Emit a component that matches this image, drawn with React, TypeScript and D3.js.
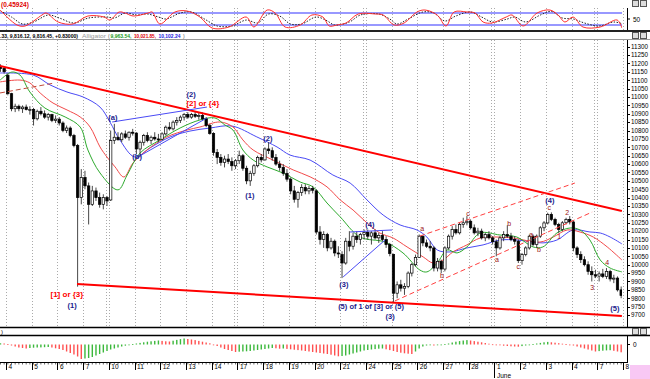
import React from 'react';
import * as d3 from 'd3';

const W = 650;
const H = 379;

// Day labels along the time axis (each trading day = 7 hourly bars)
const dayLabels = ['4','5','6','7','10','11','12','13','14','17','18','19','20','21','24','25','26','27','28','1','2','3','4','7','8'];
const mondays = [4, 9, 14, 19, 23];
const monthLabel = { day: 19, text: 'June' };

const firstBar = -2;
// hourly OHLC, DJIA May 3 (last 2 bars) .. June 7 2010
const ohlc: [number, number, number, number][] = [
  [11180,11195,11150,11170],[11170,11180,11140,11151],
  // May 4
  [11130,11140,11010,11020],[11020,11025,10915,10930],[10930,10960,10910,10945],[10945,10955,10915,10930],[10930,10950,10905,10940],[10940,10955,10920,10925],[10925,10945,10895,10926],
  // May 5
  [10926,10935,10830,10870],[10870,10925,10860,10915],[10915,10940,10890,10900],[10900,10920,10870,10880],[10880,10905,10860,10895],[10895,10900,10850,10860],[10860,10890,10845,10868],
  // May 6
  [10868,10880,10830,10845],[10845,10855,10790,10800],[10800,10830,10785,10815],[10815,10825,10760,10770],[10770,10780,10700,10710],[10710,10720,9869,10400],[10400,10570,10360,10520],
  // May 7
  [10520,10560,10450,10470],[10470,10490,10240,10360],[10360,10470,10350,10440],[10440,10460,10380,10400],[10400,10430,10340,10360],[10360,10420,10330,10400],[10400,10410,10350,10380],
  // May 10
  [10386,10800,10380,10740],[10740,10840,10720,10760],[10760,10790,10740,10745],[10745,10790,10730,10780],[10780,10800,10750,10760],[10760,10795,10740,10790],[10790,10810,10770,10785],
  // May 11
  [10785,10790,10660,10690],[10690,10740,10640,10730],[10730,10780,10710,10770],[10770,10790,10730,10740],[10740,10770,10720,10760],[10760,10790,10740,10750],[10750,10780,10730,10748],
  // May 12
  [10748,10790,10740,10780],[10780,10830,10770,10820],[10820,10850,10800,10810],[10810,10860,10800,10850],[10850,10880,10830,10860],[10860,10890,10845,10880],[10880,10905,10860,10896],
  // May 13
  [10896,10910,10870,10880],[10880,10905,10870,10895],[10895,10912,10875,10885],[10885,10905,10865,10890],[10890,10908,10860,10870],[10870,10880,10820,10830],[10830,10840,10775,10782],
  // May 14
  [10782,10790,10650,10670],[10670,10690,10600,10640],[10640,10660,10590,10610],[10610,10650,10580,10630],[10630,10660,10600,10615],[10615,10640,10560,10590],[10590,10630,10570,10620],
  // May 17
  [10620,10680,10600,10650],[10650,10660,10560,10575],[10575,10590,10480,10500],[10500,10560,10470,10545],[10545,10600,10530,10590],[10590,10650,10580,10640],[10640,10660,10610,10625],
  // May 18
  [10625,10700,10620,10690],[10690,10730,10660,10680],[10680,10700,10620,10640],[10640,10660,10590,10600],[10600,10620,10560,10580],[10580,10600,10530,10545],[10545,10570,10495,10510],
  // May 19
  [10510,10520,10420,10440],[10440,10470,10370,10390],[10390,10440,10340,10430],[10430,10480,10410,10460],[10460,10480,10420,10440],[10440,10470,10420,10455],[10455,10470,10425,10444],
  // May 20
  [10440,10450,10180,10195],[10195,10230,10120,10150],[10150,10200,10100,10180],[10180,10190,10080,10100],[10100,10160,10090,10140],[10140,10150,10050,10070],[10070,10110,10040,10068],
  // May 21
  [10060,10080,9920,10010],[10010,10160,10000,10140],[10140,10200,10080,10110],[10110,10190,10090,10170],[10170,10200,10130,10150],[10150,10190,10120,10180],[10180,10210,10150,10193],
  // May 24
  [10193,10210,10150,10170],[10170,10200,10120,10190],[10190,10210,10150,10160],[10160,10190,10130,10175],[10175,10200,10140,10150],[10150,10170,10100,10120],[10120,10130,10050,10066],
  // May 25
  [10060,10066,9774,9830],[9830,9900,9800,9880],[9880,9910,9840,9860],[9860,9890,9820,9870],[9870,9960,9860,9950],[9950,10010,9930,10000],[10000,10060,9990,10043],
  // May 26
  [10043,10180,10040,10170],[10170,10175,10110,10130],[10130,10150,10100,10110],[10110,10140,10080,10100],[10100,10110,9960,9980],[9980,10040,9960,10020],[10020,10030,9950,9974],
  // May 27
  [9974,10110,9960,10100],[10100,10180,10090,10170],[10170,10230,10150,10210],[10210,10240,10180,10190],[10190,10250,10180,10240],[10240,10280,10220,10250],[10250,10290,10235,10259],
  // May 28
  [10259,10270,10210,10220],[10220,10240,10180,10190],[10190,10220,10170,10200],[10200,10215,10150,10160],[10160,10190,10140,10180],[10180,10200,10150,10160],[10160,10170,10120,10137],
  // June 1
  [10137,10150,10050,10100],[10100,10170,10090,10160],[10160,10200,10140,10180],[10180,10235,10160,10170],[10170,10190,10140,10150],[10150,10170,10120,10140],[10140,10150,10010,10024],
  // June 2
  [10024,10070,10000,10060],[10060,10110,10050,10100],[10100,10180,10090,10170],[10170,10180,10110,10120],[10120,10180,10100,10170],[10170,10230,10160,10220],[10220,10260,10200,10249],
  // June 3
  [10249,10310,10240,10300],[10300,10312,10260,10270],[10270,10280,10230,10240],[10240,10250,10190,10210],[10210,10260,10200,10250],[10250,10280,10240,10270],[10270,10290,10240,10255],
  // June 4
  [10255,10260,10080,10100],[10100,10110,10040,10060],[10060,10080,10010,10030],[10030,10050,9990,10000],[10000,10020,9940,9960],[9960,9990,9900,9940],[9940,9970,9920,9932],
  // June 7
  [9932,9960,9900,9945],[9945,9975,9920,9930],[9930,9980,9915,9960],[9960,9970,9900,9915],[9915,9940,9890,9920],[9920,9930,9840,9850],[9850,9870,9800,9816],
];

// Alligator lines: [bar, price]
const jaw: [number, number][] = [
  [-2.1,11143],[6.9,11131],[11.5,11072],[16.1,11030],[20.5,11000],[25.1,10940],[27.8,10851],[30.5,10744],[34.6,10642],[38.7,10696],[44.2,10762],[49.6,10797],[55.1,10815],[61,10827],[67.8,10762],[73.3,10702],[76.8,10654],[82.3,10624],[88.5,10535],[93.2,10487],[97.8,10386],[102.2,10296],[106.8,10237],[111.4,10207],[114.1,10165],[116.9,10088],[120.4,10076],[125,10100],[129.4,10118],[134,10147],[138.6,10147],[143,10135],[145.7,10130],[149.5,10147],[153.9,10207],[158.5,10195],[161.3,10189],[164,10165],[167.2,10124],
];
const teeth: [number, number][] = [
  [-2.1,11090],[3.3,11101],[6,11084],[8.8,11024],[12.3,10964],[16.1,10923],[19.7,10881],[22.4,10821],[25.1,10702],[27,10642],[29.2,10583],[31.6,10523],[34.1,10607],[37.9,10684],[43.3,10762],[48.8,10803],[52.3,10821],[57.8,10851],[61.3,10821],[64,10744],[66.8,10684],[72.2,10624],[77.7,10565],[82.3,10524],[86.9,10464],[90.5,10386],[94,10326],[97.8,10249],[101.3,10189],[104.9,10159],[108.7,10106],[113.1,10046],[115.8,10010],[118.5,10028],[121.2,10076],[125,10118],[128.6,10159],[133.2,10165],[137.6,10159],[144.9,10135],[148.5,10165],[152.3,10207],[155.8,10195],[159.4,10165],[163.2,10106],[167.2,10028],
];
const lips: [number, number][] = [
  [-2.1,11101],[1.1,11149],[3.3,11131],[6,11030],[10.1,10934],[15.6,10881],[19.7,10821],[21.8,10684],[25.1,10547],[30,10446],[32.5,10535],[36,10666],[41.4,10744],[46.9,10815],[52.3,10863],[56.4,10875],[59.1,10833],[61.3,10803],[64,10684],[66.8,10624],[70.6,10583],[74.9,10547],[79.6,10493],[83.1,10464],[86.9,10368],[90.5,10285],[95.9,10165],[102.7,10135],[107.6,10070],[112.2,9968],[114.1,9957],[116.9,10010],[119.6,10088],[122.3,10070],[125,10106],[128.6,10189],[134,10177],[138.6,10165],[143,10106],[145.7,10106],[149.5,10189],[153.1,10219],[155.8,10207],[158.5,10147],[161.3,10028],[164,9980],[167.2,9957],
];

// Drawn trend lines [bar, price] -> [bar, price]
const redTrend: [[number, number], [number, number]][] = [
  [[-2.13,11185],[167.2,10320]],
  [[18.83,9885],[167.2,9694]],
];
const redDashed: [[number, number], [number, number]][] = [
  [[105.4,9784],[159.1,10314]],
  [[112.2,10171],[154.4,10487]],
  [[-2.13,11024],[12.85,11084]],
];
const blueWave: [[number, number], [number, number]][] = [
  [[28.4,10851],[54.2,10940]],
  [[34.9,10636],[54.2,10875]],
  [[91.3,9927],[102.7,10147]],
  [[93.2,10195],[104.6,10207]],
];

// Wave labels [text, bar, price, kind]
const waveLabels: [string, number, number, string][] = [
  ['[1] or {3}',16.1,9819,'major'],['(1)',17.5,9754,'minor'],['(a)',28.6,10875,'minor'],['(b)',35.2,10642,'minor'],
  ['(2)',49.9,11012,'minor'],['[2] or {4}',53.1,10958,'major'],['(2)',70.8,10750,'minor'],['(1)',65.9,10410,'minor'],
  ['(3)',91.5,9879,'minor'],['(4)',98.6,10237,'minor'],['(5) of 1 of [3] or (5)',98.9,9748,'minor'],['(3)',104.1,9688,'minor'],
  ['a',112.8,10213,'sub'],['b',118.2,9933,'sub'],['c',125.3,10302,'sub'],['a',133.2,10028,'sub'],['b',136.5,10243,'sub'],
  ['c',139,9986,'sub'],['a',142.5,10177,'sub'],['b',144.6,10088,'sub'],['(4)',147.6,10380,'minor'],['c',147.4,10338,'sub'],
  ['1',150.1,10165,'sub'],['2',152.3,10308,'sub'],['3',159.1,9861,'sub'],['4',163.2,10010,'sub'],['(5)',165.3,9736,'minor'],
];

// Stochastic oscillator (top pane): [bar, value]
const stochK: [number, number][] = [
  [-2.1,95],[2.5,20],[4.7,15],[9.3,70],[10.4,80],[13.7,35],[17.7,25],[21.8,65],[26.2,60],[27.8,45],[30.3,85],[31.9,80],[34.1,65],[38.2,80],[39.3,85],[41.4,25],[45.5,85],[48.8,90],[52.3,60],[55.6,5],[60.2,10],[64.9,60],[67,10],[70.6,95],[72.8,80],[75.5,10],[79.6,20],[82.8,70],[85.8,60],[87.5,15],[89.6,20],[92.1,30],[95.4,75],[100,75],[102.2,70],[105.2,20],[107.9,30],[111.4,85],[113.6,95],[116.9,70],[119.3,15],[121.5,85],[125,85],[127.2,80],[129.4,35],[131.8,30],[135.7,60],[137.3,70],[140.3,15],[144.1,80],[147.6,95],[149.8,70],[151.7,35],[153.9,60],[156.6,10],[161.3,10],[165.9,45],[167.2,5],
];
const stochD: [number, number][] = [
  [-2,90],[1,60],[4,25],[7,35],[11,70],[14,55],[18,30],[22,55],[27,60],[29,55],[32,80],[35,70],[38,75],[41,60],[43,50],[47,80],[50,85],[54,45],[57,15],[61,15],[65,45],[68,30],[71,75],[74,65],[77,25],[80,25],[84,60],[87,40],[89,20],[93,35],[96,70],[101,75],[104,50],[106,25],[109,50],[113,85],[116,80],[119,40],[122,65],[126,85],[129,60],[132,35],[136,50],[138,60],[141,35],[145,70],[148,88],[151,55],[154,50],[157,30],[161,15],[165,35],[167.5,25],
];

// Accelerator oscillator (bottom pane), one value per bar from firstBar
const acValues: number[] = [
  1.2,1.0,
  0.5,-1,-2,-3,-3.5,-4,-3.5,
  -3.2,-3.0,-2.9,-2.7,-2.5,-3.0,-3.8,
  -4.5,-5.5,-7,-8.5,-10,-12,-14.5,
  -14,-13.5,-12.5,-11,-9.5,-8,-6.5,
  -5,-4,-3,-2,-1.2,-0.5,0.3,
  1,1.6,2.2,2.8,3.2,3.6,4,
  3.6,3.2,3.0,3.8,4.6,5.4,6,
  5.5,5,4.4,3.6,2.8,2,1.2,
  0,-1.5,-3,-4.5,-5.5,-6.5,-7.5,
  -7.2,-7,-6.8,-6.5,-6,-5.5,-5,
  -4.5,-4,-3.5,-3.8,-4.2,-4,-4.4,
  -4.8,-5.2,-5.6,-6,-6.5,-7,-7.5,
  -8,-8.5,-9,-9.5,-10.2,-11,-11.8,
  -11.5,-11,-10,-9,-8,-7,-6,
  -5.5,-5,-4.6,-4.2,-4,-4.8,-5.6,
  -6.5,-7.5,-8.2,-8.8,-9.2,-9.5,-7,
  -4,-2,-1,-0.5,-1,-0.5,0,
  0.5,1,2,2.8,3.4,4,4.4,
  4,3.4,2.8,2.2,1.5,0.8,0.2,
  -0.4,-0.8,-1.2,-1.5,-1.8,-2,-2.2,
  -1.6,-1,-0.3,0.4,1,1.6,2.2,
  2.6,2.2,1.8,1.3,0.8,0.3,-0.3,
  -1,-2,-3,-4,-5,-6,-7,
  -6.6,-6.2,-5.9,-5.7,-6.3,-7,-7.8,
];

const priceTicks = d3.range(9700, 11301, 50);
const header = { last: '.33, 9,816.12, 9,816.45, +0.83000)', name: 'Alligator', lips: '9,963.54,', teeth: '10,021.85,', jaw: '10,102.24' };
const oscHeader = '(0.45924)';

const FONT = 'Liberation Sans, Arial, sans-serif';

export default function App() {
  const plotRight = 622;
  const x = d3.scaleLinear().domain([-0.5, 167.5]).range([6, 623]);
  const y = d3.scaleLinear().domain([9700, 11300]).range([315, 46.7]);
  const yOsc = d3.scaleLinear().domain([0, 100]).range([29, 9]);
  const yAc = d3.scaleLinear().domain([-15, 8]).range([359.5, 336.5]);

  const priceLine = d3.line<[number, number]>().x(d => x(d[0])).y(d => y(d[1])).curve(d3.curveCatmullRom.alpha(0.5));
  const oscLine = d3.line<[number, number]>().x(d => x(d[0])).y(d => yOsc(d[1])).curve(d3.curveCatmullRom.alpha(0.5));

  const dayX = dayLabels.map((_, k) => x(7 * k - 0.5));
  const bw = 2.4;

  const gridLines = (y0: number, y1: number) => (
    <g stroke="#aaa" strokeWidth={1} strokeDasharray="1,2">
      {dayX.map((dx, k) => (
        <g key={k}>
          <line x1={Math.round(dx) + 0.5} x2={Math.round(dx) + 0.5} y1={y0} y2={y1} />
          {mondays.includes(k) && <line x1={Math.round(dx) - 2.5} x2={Math.round(dx) - 2.5} y1={y0} y2={y1} />}
        </g>
      ))}
    </g>
  );

  const labelStyle = (kind: string) => {
    if (kind === 'major') return { fill: '#ff0000', fontSize: 8, fontWeight: 700 };
    if (kind === 'minor') return { fill: '#1a1a8c', fontSize: 7.5, fontWeight: 700 };
    return { fill: '#9a1010', fontSize: 7, fontWeight: 400 };
  };

  const icons = (yy: number) => (
    <g>
      <rect x={632.5} y={yy + 0.5} width={6} height={6} fill="#ddd" stroke="#555" strokeWidth={1} />
      <rect x={640.5} y={yy + 0.5} width={6} height={6} fill="#ddd" stroke="#555" strokeWidth={1} />
    </g>
  );

  return (
    <svg width={W} height={H} style={{ position: 'absolute', left: 0, top: 0, background: '#fff' }} fontFamily={FONT}>
      <defs>
        <clipPath id="mainClip"><rect x={0} y={40} width={plotRight} height={287} /></clipPath>
        <clipPath id="oscClip"><rect x={0} y={0} width={plotRight} height={30} /></clipPath>
      </defs>
      <rect x={0} y={0} width={W} height={H} fill="#fff" />

      {/* ===== Top oscillator pane ===== */}
      {gridLines(8, 30)}
      <g clipPath="url(#oscClip)">
        <line x1={0} x2={plotRight} y1={yOsc(80)} y2={yOsc(80)} stroke="#3333ff" strokeWidth={1.2} />
        <line x1={0} x2={plotRight} y1={yOsc(20)} y2={yOsc(20)} stroke="#3333ff" strokeWidth={1.2} />
        <path d={oscLine(stochD) || ''} fill="none" stroke="#222" strokeWidth={1} strokeDasharray="1.5,1.5" />
        <path d={oscLine(stochK) || ''} fill="none" stroke="#ff3030" strokeWidth={1} />
      </g>
      <text x={1} y={7} fontSize={6.5} fontWeight={700} fill="#e00000">{oscHeader}</text>
      <line x1={627.5} x2={627.5} y1={8} y2={30} stroke="#000" />
      <line x1={627} x2={630} y1={yOsc(50)} y2={yOsc(50)} stroke="#000" />
      <text x={633} y={yOsc(50) + 2.5} fontSize={6.5} fill="#000">50</text>
      {icons(0)}

      {/* ===== separator + header ===== */}
      <line x1={0} x2={W} y1={31} y2={31} stroke="#222" strokeWidth={2} />
      <text y={37.5} fontSize={5.2} fontWeight={700}>
        <tspan x={0} fill="#000" fontSize={4.8} textLength={78} lengthAdjust="spacingAndGlyphs">{header.last}</tspan>
        <tspan x={82} fill="#999" fontWeight={400} textLength={24} lengthAdjust="spacingAndGlyphs">{header.name}</tspan>
        <tspan x={108} fill="#999">(</tspan>
        <tspan x={110.5} fill="#1a9a1a" textLength={21} lengthAdjust="spacingAndGlyphs">{header.lips}</tspan>
        <tspan x={134} fill="#e00000" textLength={22} lengthAdjust="spacingAndGlyphs">{header.teeth}</tspan>
        <tspan x={158.5} fill="#1a1ae0" textLength={22} lengthAdjust="spacingAndGlyphs">{header.jaw}</tspan>
        <tspan x={183} fill="#999">)</tspan>
      </text>
      <line x1={0} x2={W} y1={39.5} y2={39.5} stroke="#999" strokeWidth={1} />
      {icons(32)}

      {/* ===== Main pane ===== */}
      {gridLines(40, 327)}
      <g clipPath="url(#mainClip)">
        {/* Alligator */}
        <path d={priceLine(jaw) || ''} fill="none" stroke="#4a4af5" strokeWidth={1} />
        <path d={priceLine(teeth) || ''} fill="none" stroke="#f24a4a" strokeWidth={1} />
        <path d={priceLine(lips) || ''} fill="none" stroke="#2eaa2e" strokeWidth={1} />

        {/* candles */}
        {ohlc.map((b, k) => {
          const i = firstBar + k;
          const cx = x(i);
          const [o, h, l, c] = b;
          const up = c >= o;
          const top = y(Math.max(o, c));
          const bot = y(Math.min(o, c));
          return (
            <g key={k}>
              <line x1={cx} x2={cx} y1={y(h)} y2={y(l)} stroke="#333" strokeWidth={0.9} />
              <rect x={cx - bw / 2} y={top} width={bw} height={Math.max(1, bot - top)}
                fill={up ? '#fff' : '#000'} stroke="#000" strokeWidth={0.7} />
            </g>
          );
        })}

        {/* trend lines */}
        {redTrend.map((t, k) => (
          <line key={'rt' + k} x1={x(t[0][0])} y1={y(t[0][1])} x2={x(t[1][0])} y2={y(t[1][1])} stroke="#ff0000" strokeWidth={2} />
        ))}
        {redDashed.map((t, k) => (
          <line key={'rd' + k} x1={x(t[0][0])} y1={y(t[0][1])} x2={x(t[1][0])} y2={y(t[1][1])} stroke={k === 2 ? '#c04a3a' : '#ff4040'} strokeWidth={1} strokeDasharray="5,3" />
        ))}
        {blueWave.map((t, k) => (
          <line key={'bw' + k} x1={x(t[0][0])} y1={y(t[0][1])} x2={x(t[1][0])} y2={y(t[1][1])} stroke="#4a4af5" strokeWidth={1} />
        ))}

        {/* labels */}
        {waveLabels.map((l, k) => {
          const s = labelStyle(l[3]);
          return (
            <text key={'wl' + k} x={x(l[1])} y={y(l[2])} textAnchor="middle" dominantBaseline="middle"
              fontSize={s.fontSize} fontWeight={s.fontWeight} fill={s.fill}>{l[0]}</text>
          );
        })}
      </g>

      {/* right price axis */}
      <line x1={627.5} x2={627.5} y1={40} y2={327} stroke="#000" />
      {priceTicks.map(p => (
        <g key={p}>
          <line x1={627} x2={630} y1={Math.round(y(p)) + 0.5} y2={Math.round(y(p)) + 0.5} stroke="#000" />
          <text x={631} y={y(p) + 2.3} fontSize={6.3} fill="#000">{p}</text>
        </g>
      ))}

      {/* ===== Bottom accelerator pane ===== */}
      <line x1={0} x2={W} y1={327.5} y2={327.5} stroke="#000" strokeWidth={1.5} />
      <line x1={0} x2={W} y1={335.5} y2={335.5} stroke="#000" strokeWidth={1.5} />
      <text x={1} y={334} fontSize={6} fill="#000">)</text>
      {icons(328)}
      <g>
        {acValues.map((v, k) => {
          const i = firstBar + k;
          const prev = k > 0 ? acValues[k - 1] : v;
          const col = v >= prev ? '#3cb83c' : '#ff5050';
          const y0 = yAc(0);
          const y1 = yAc(v);
          return <rect key={'ac' + k} x={x(i) - 0.7} y={Math.min(y0, y1)} width={1.4} height={Math.max(0.8, Math.abs(y1 - y0))} fill={col} />;
        })}
      </g>
      <line x1={627.5} x2={627.5} y1={336} y2={362} stroke="#000" />
      <line x1={627} x2={630} y1={yAc(0)} y2={yAc(0)} stroke="#000" />
      <text x={633} y={yAc(0) + 2.5} fontSize={6.5} fill="#000">0</text>

      {/* ===== time axis ===== */}
      <line x1={0} x2={628} y1={362.5} y2={362.5} stroke="#000" />
      {d3.range(-2, 168).map(i => (
        <line key={'mt' + i} x1={x(i)} x2={x(i)} y1={362} y2={364.5} stroke="#000" strokeWidth={0.6} />
      ))}
      {dayLabels.map((lab, k) => (
        <g key={'dl' + k}>
          <line x1={Math.round(dayX[k]) + 0.5} x2={Math.round(dayX[k]) + 0.5} y1={362} y2={370} stroke="#000" />
          <text x={dayX[k] + 2.5} y={369} fontSize={6.5} fill="#000">{lab}</text>
        </g>
      ))}
      <line x1={Math.round(dayX[monthLabel.day]) + 0.5} x2={Math.round(dayX[monthLabel.day]) + 0.5} y1={362} y2={378} stroke="#000" />
      <text x={dayX[monthLabel.day] + 2.5} y={377.5} fontSize={6.5} fill="#000">{monthLabel.text}</text>
      <rect x={630} y={365} width={20} height={14} fill="#f8c8f4" />
    </svg>
  );
}
